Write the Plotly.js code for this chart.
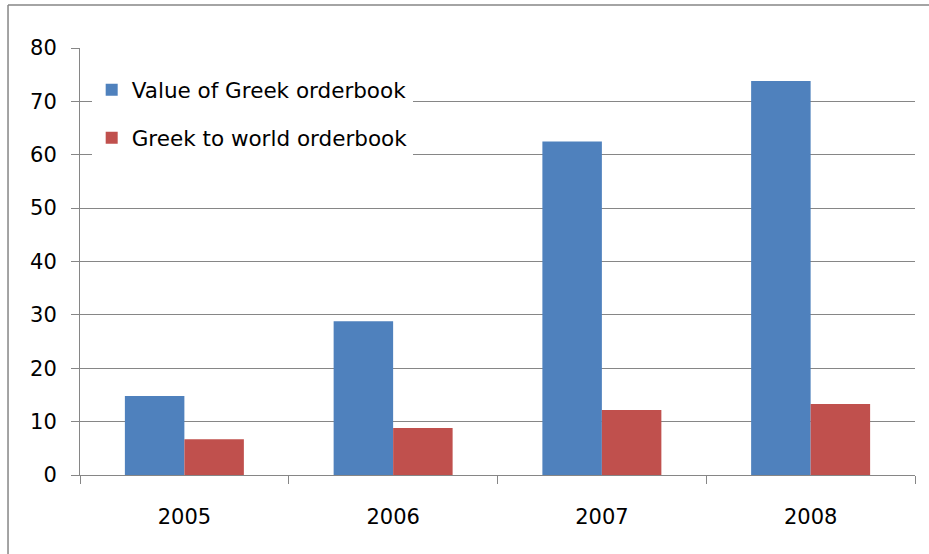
<!DOCTYPE html>
<html>
<head>
<meta charset="utf-8">
<script src="https://cdn.plot.ly/plotly-3.0.1.min.js"></script>
<style>html,body{margin:0;padding:0;background:#fff;overflow:hidden;}#chart{width:929px;height:554px;}</style>
</head>
<body>
<div id="chart"></div>
<script>
const years = ["2005", "2006", "2007", "2008"];
const valueGreekOrderbook = [14.8, 28.8, 62.5, 73.8];
const greekToWorldOrderbook = [6.7, 8.8, 12.2, 13.3];
const seriesNames = ["Value of Greek orderbook", "Greek to world orderbook"];

const fontFam = "DejaVu Sans, sans-serif";
const grid = "#868686";

const traces = [
  {type: "bar", x: years, y: valueGreekOrderbook, name: seriesNames[0],
   marker: {color: "#4F81BD"}, legendgroup: "a", hoverinfo: "none"},
  {type: "bar", x: years, y: greekToWorldOrderbook, name: seriesNames[1],
   marker: {color: "#C0504D"}, legendgroup: "b", hoverinfo: "none"}
];

const layout = {
  width: 929, height: 554,
  margin: {l: 80, r: 14, t: 48, b: 79},
  paper_bgcolor: "#fff", plot_bgcolor: "#fff",
  font: {family: fontFam, size: 21, color: "#000"},
  barmode: "group", bargap: 0.43, bargroupgap: 0,
  showlegend: true,
  legend: {x: 0.014, y: 0.95, xanchor: "left", yanchor: "top",
           bgcolor: "#fff", borderwidth: 0, traceorder: "grouped",
           tracegroupgap: 17, font: {family: fontFam, size: 21.5, color: "#000"}},
  xaxis: {type: "category", tickson: "boundaries", ticks: "outside", ticklen: 8,
          tickcolor: grid, showline: true, linecolor: grid, linewidth: 1,
          showgrid: false, ticklabelstandoff: 23,
          tickfont: {family: fontFam, size: 21, color: "#000"}},
  yaxis: {range: [0, 80], dtick: 10, tick0: 0, ticks: "outside", ticklen: 8,
          tickcolor: grid, showline: true, linecolor: grid, linewidth: 1,
          showgrid: true, gridcolor: grid, gridwidth: 1, zeroline: false,
          ticklabelstandoff: 10,
          tickfont: {family: fontFam, size: 21, color: "#000"}},
  shapes: [
    {type: "line", xref: "paper", yref: "paper",
     x0: -0.0862, x1: 1.1, y0: 1.1007, y1: 1.1007,
     line: {color: "#868686", width: 1.5}, layer: "below"},
    {type: "line", xref: "paper", yref: "paper",
     x0: -0.0862, x1: -0.0862, y0: -0.25, y1: 1.1007,
     line: {color: "#868686", width: 1.5}, layer: "below"}
  ]
};

Plotly.newPlot("chart", traces, layout, {displayModeBar: false, staticPlot: true});
</script>
</body>
</html>
